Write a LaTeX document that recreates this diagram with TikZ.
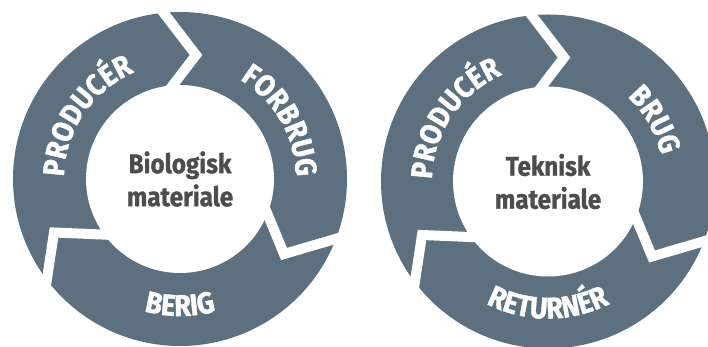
\documentclass[tikz,border=0pt]{standalone}
\usepackage{fontspec}
\usetikzlibrary{decorations.text}
\newfontfamily\ringfont{Fira Sans}[FakeStretch=0.9, BoldFeatures={FakeBold=1.3}]
\newfontfamily\centerfont{Fira Sans}[FakeStretch=0.9, BoldFeatures={FakeBold=1.0}]
\definecolor{ringgray}{HTML}{5C7080}
\definecolor{centergray}{HTML}{4D4D4D}
\tikzset{
  ringdisc/.style={fill=ringgray},
  gapline/.style={draw=white, line width=10pt, line join=miter, miter limit=20},
  innerdisc/.style={fill=white},
  centertext/.style={text=centergray, font=\centerfont\bfseries\fontsize{27}{33}\selectfont, align=center, inner sep=0pt},
  arclabel/.style={decorate, decoration={text along path, text align=center, text color=white,
      text={|\ringfont\bfseries\fontsize{30}{30}\selectfont|#1}}},
}
\begin{document}
\begin{tikzpicture}[x=1pt,y=1pt]
\useasboundingbox (0,0) rectangle (708,347);
\clip (0,0) rectangle (708,347);
% ---------- left cycle ----------
\begin{scope}[shift={(180,168)}]
  \coordinate (lc) at (0,0);
  \fill[ringdisc] (lc) circle (167pt);
  \coordinate (l1o) at (-26.5,179.4);
  \coordinate (l1t) at (16,124);
  \coordinate (l1i) at (-17.1,80.8);
  \coordinate (l2i) at (83.1,-24.4);
  \coordinate (l2t) at (104,-75);
  \coordinate (l2o) at (177.6,-53.4);
  \coordinate (l3o) at (-135.5,-116.3);
  \coordinate (l3t) at (-126,-53.5);
  \coordinate (l3i) at (-61.9,-56.2);
  \draw[gapline] (l1o) -- (l1t) -- (l1i);
  \draw[gapline] (l2i) -- (l2t) -- (l2o);
  \draw[gapline] (l3o) -- (l3t) -- (l3i);
  \fill[innerdisc] (lc) circle (94pt);
  \node[centertext] (lctext) at (lc) {Biologisk\\materiale};
  \path[arclabel=PRODUCÉR] (201:116pt) arc[start angle=201, end angle=91, radius=116pt];
  \path[arclabel=FORBRUG] (85:116pt) arc[start angle=85, end angle=-25, radius=116pt];
  \path[arclabel=BERIG] (215:137pt) arc[start angle=215, end angle=325, radius=137pt];
\end{scope}
% ---------- right cycle ----------
\begin{scope}[shift={(548,165.5)}]
  \coordinate (rc) at (0,0);
  \fill[ringdisc] (rc) circle (167pt);
  \coordinate (r1o) at (-26.5,179.4);
  \coordinate (r1t) at (16,124);
  \coordinate (r1i) at (-17.1,80.8);
  \coordinate (r2i) at (83.1,-24.4);
  \coordinate (r2t) at (104,-75);
  \coordinate (r2o) at (177.6,-53.4);
  \coordinate (r3o) at (-135.5,-116.3);
  \coordinate (r3t) at (-126,-53.5);
  \coordinate (r3i) at (-61.9,-56.2);
  \draw[gapline] (r1o) -- (r1t) -- (r1i);
  \draw[gapline] (r2i) -- (r2t) -- (r2o);
  \draw[gapline] (r3o) -- (r3t) -- (r3i);
  \fill[innerdisc] (rc) circle (95pt);
  \node[centertext] (rctext) at (rc) {Teknisk\\materiale};
  \path[arclabel=PRODUCÉR] (201:116pt) arc[start angle=201, end angle=91, radius=116pt];
  \path[arclabel=BRUG] (85:116pt) arc[start angle=85, end angle=-25, radius=116pt];
  \path[arclabel=RETURNÉR] (200:137pt) arc[start angle=200, end angle=340, radius=137pt];
\end{scope}
\end{tikzpicture}
\end{document}
